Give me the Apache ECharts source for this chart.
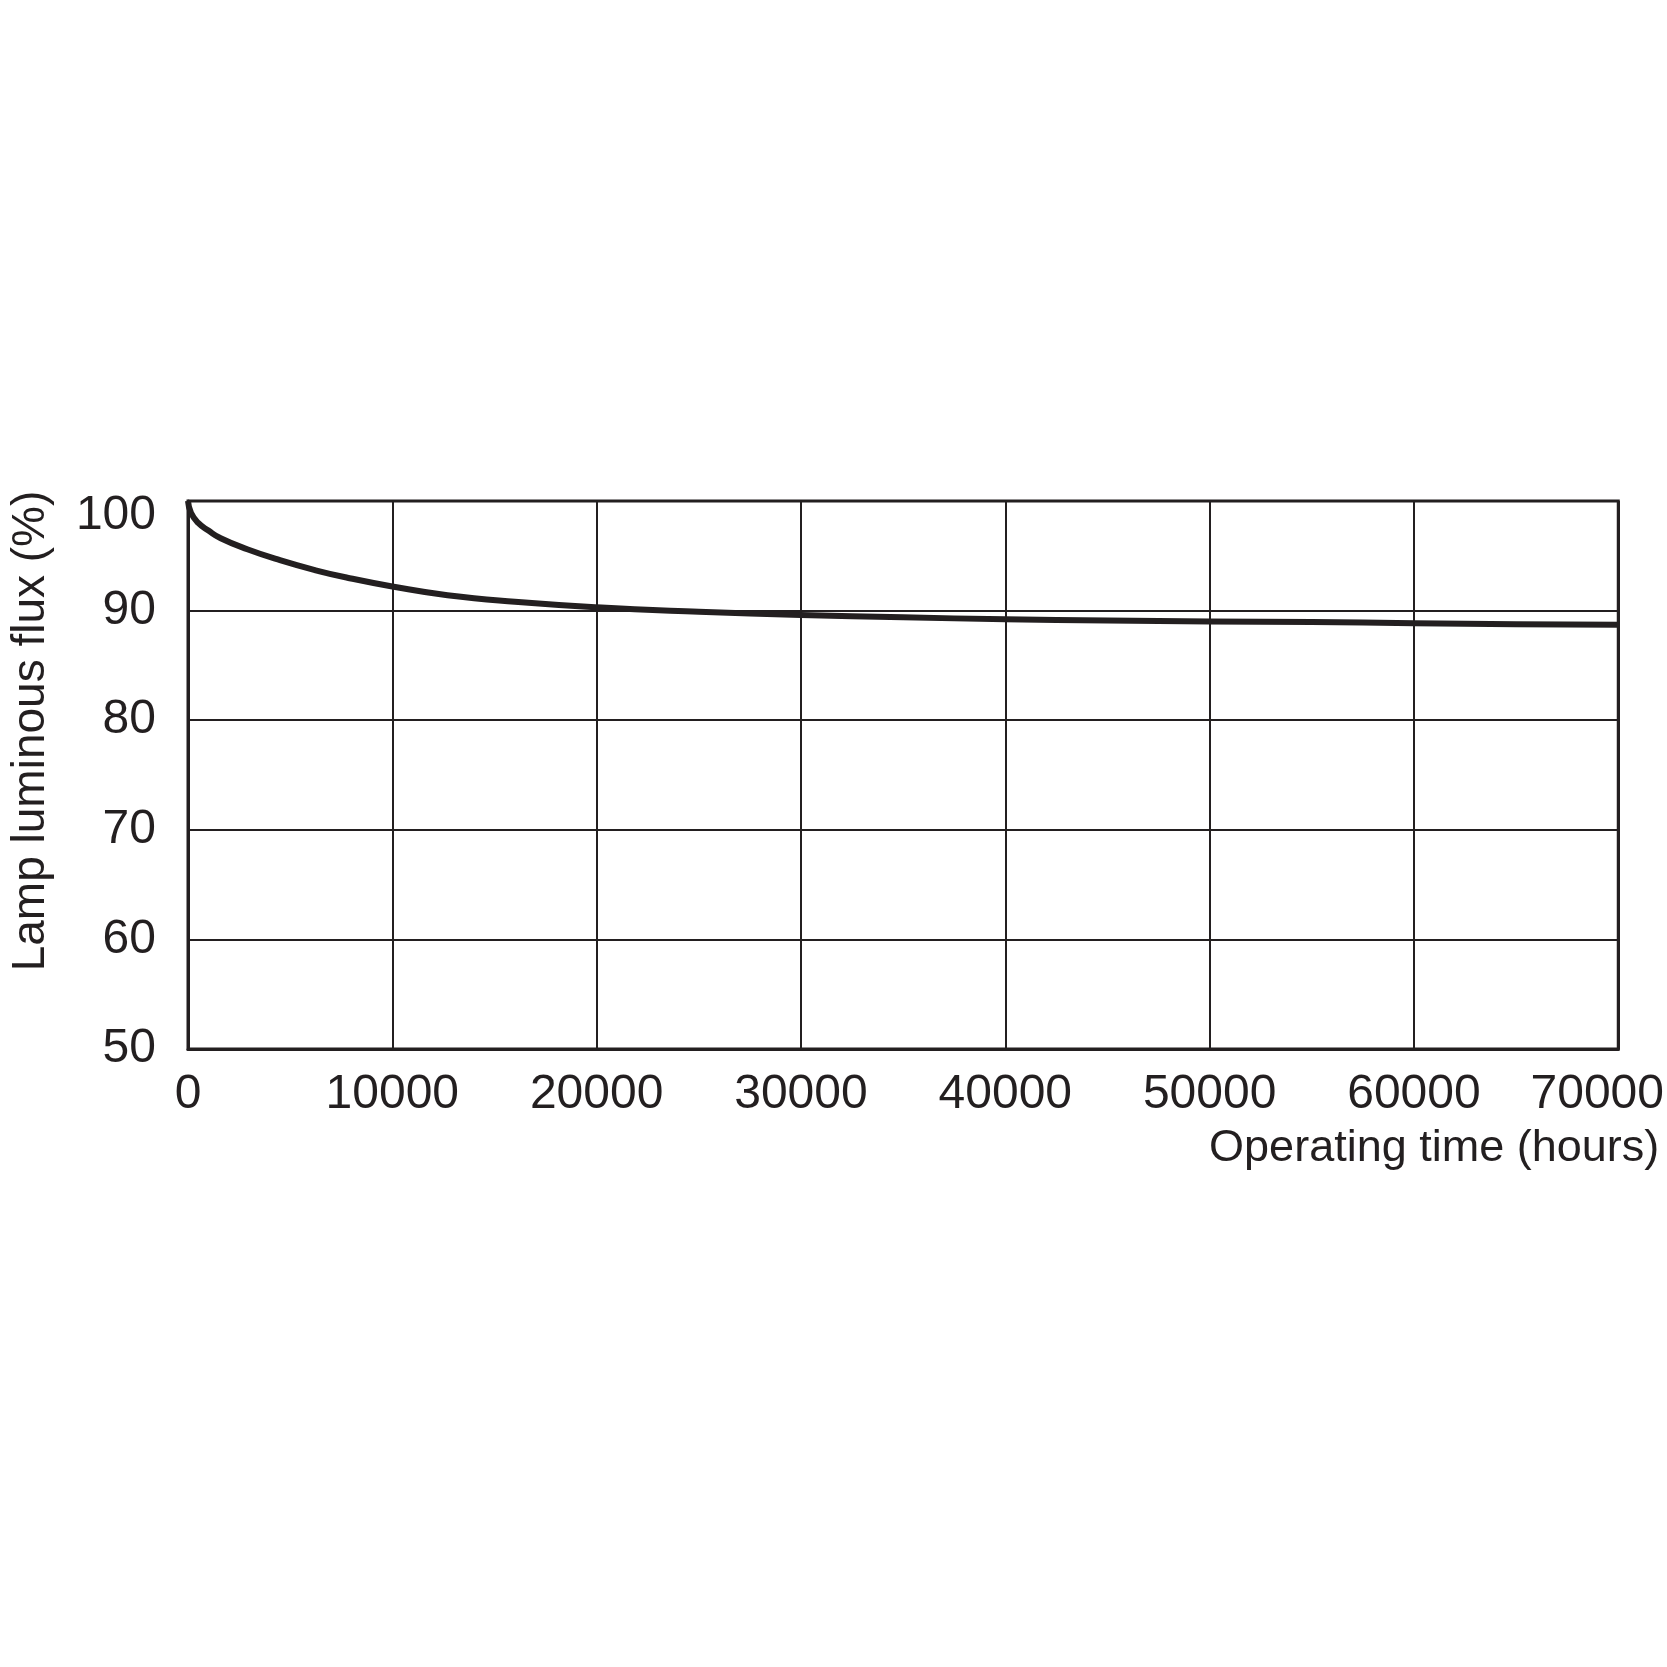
<!DOCTYPE html>
<html>
<head>
<meta charset="utf-8">
<script src="https://cdn.jsdelivr.net/npm/echarts@6/dist/echarts.min.js"></script>
<style>
html,body{margin:0;padding:0;background:#fff;}
#chart{width:1667px;height:1667px;}
</style>
</head>
<body>
<div id="chart"></div>
<script>
const hours = [0,150,500,1000,1600,2900,4500,6200,7800,10000,12700,16000,20000,25000,30000,35000,40000,45000,50000,55000,60000,65000,70000];
const flux = [100,98.9,98.0,97.3,96.6,95.6,94.6,93.7,93.0,92.2,91.4,90.8,90.3,89.9,89.6,89.4,89.2,89.1,89.0,88.95,88.85,88.75,88.7];
const xTicks = [0,10000,20000,30000,40000,50000,60000,70000];
const yTicks = [50,60,70,80,90,100];
const xName = 'Operating time (hours)';
const yName = 'Lamp luminous flux (%)';

const ink = '#231f20';
const font = '"Liberation Sans", Arial, sans-serif';

const chart = echarts.init(document.getElementById('chart'));
chart.setOption({
  backgroundColor: '#ffffff',
  animation: false,
  grid: {left: 187, right: 46, top: 501, bottom: 618, show: true, borderColor: ink, borderWidth: 3, backgroundColor: 'transparent'},
  xAxis: {
    type: 'value', min: xTicks[0], max: xTicks[xTicks.length-1], interval: 10000,
    name: xName, nameLocation: 'end', nameGap: 41,
    nameTextStyle: {fontFamily: font, fontSize: 45, color: ink, align: 'right', verticalAlign: 'top', padding: [77,0,0,0]},
    axisLine: {show: true, lineStyle: {color: ink, width: 3}},
    axisTick: {show: false},
    splitLine: {show: true, lineStyle: {color: ink, width: 2}},
    axisLabel: {
      fontFamily: font, fontSize: 48, color: ink, margin: 22,
      formatter: v => v === 70000 ? '{last|' + v + '}' : String(v),
      rich: {last: {fontFamily: font, fontSize: 48, color: ink, padding: [0,42,0,0]}}
    }
  },
  yAxis: {
    type: 'value', min: yTicks[0], max: yTicks[yTicks.length-1], interval: 10,
    name: yName, nameLocation: 'middle', nameGap: 134,
    nameTextStyle: {fontFamily: font, fontSize: 46, color: ink, padding: [0,0,0,88]},
    axisLine: {show: true, lineStyle: {color: ink, width: 3}},
    axisTick: {show: false},
    splitLine: {show: true, lineStyle: {color: ink, width: 2}},
    axisLabel: {
      fontFamily: font, fontSize: 48, color: ink, margin: 32,
      formatter: v => v === 100 ? '{top|' + v + '}' : String(v),
      rich: {top: {fontFamily: font, fontSize: 48, color: ink, padding: [30,0,0,0]}}
    }
  },
  series: [{
    type: 'line',
    data: hours.map((h, i) => [h, flux[i]]),
    smooth: 0.5,
    showSymbol: false,
    lineStyle: {color: ink, width: 6, cap: 'butt', join: 'round'},
    z: 5
  }]
});
</script>
</body>
</html>
